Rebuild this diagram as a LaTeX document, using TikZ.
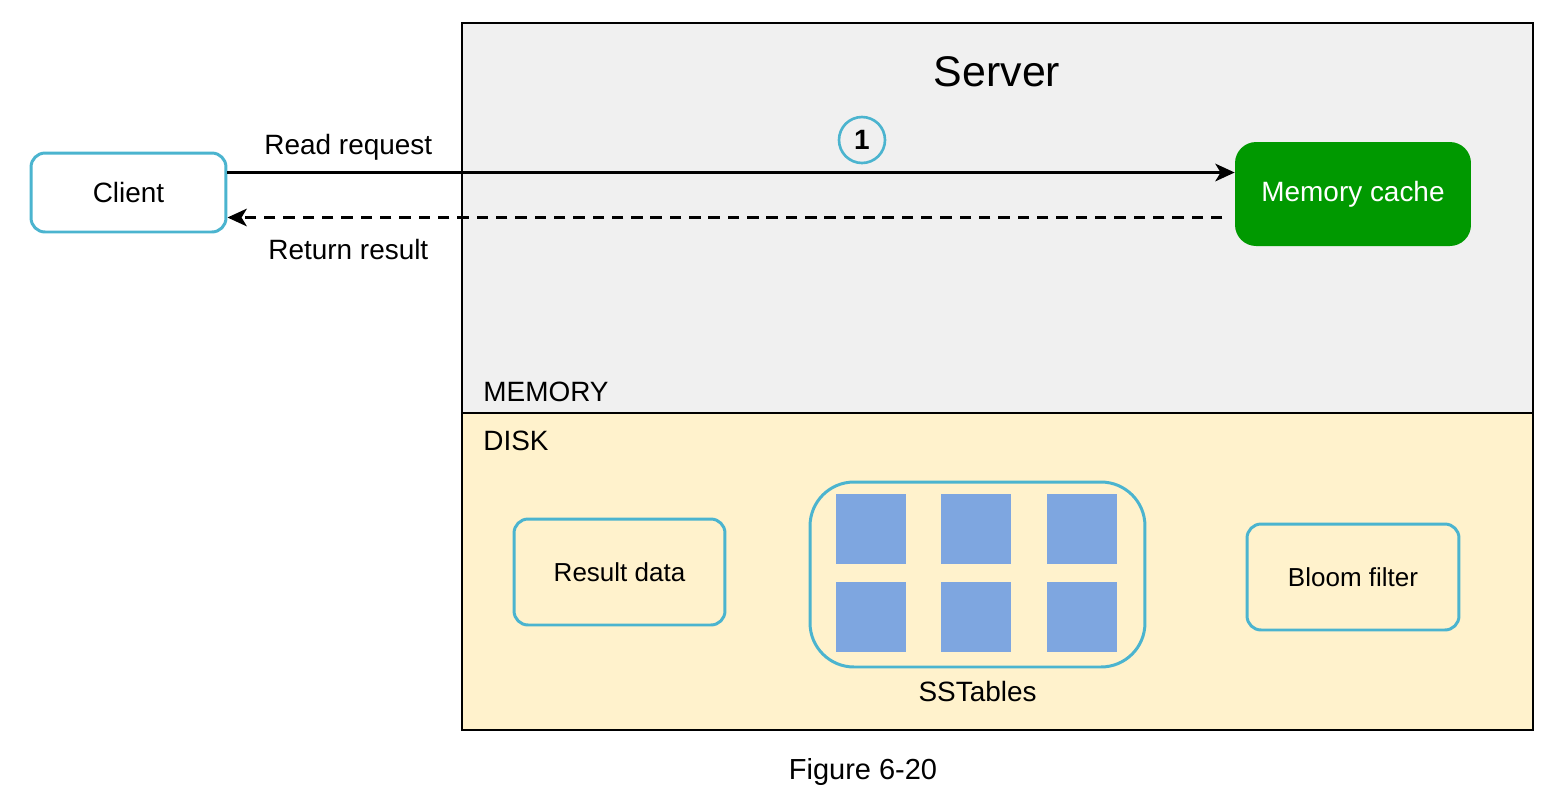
\documentclass[tikz,border=0pt]{standalone}
\usepackage{fontspec}
\setmainfont{Liberation Sans}
\usetikzlibrary{arrows.meta,positioning}
\definecolor{memcolor}{HTML}{F0F0F0}
\definecolor{diskcolor}{HTML}{FFF2CC}
\definecolor{boxcolor}{HTML}{4BB4CF}
\definecolor{cachecolor}{HTML}{009900}
\definecolor{tablecolor}{HTML}{7EA6E0}

\begin{document}
\begin{tikzpicture}[x=0.02cm,y=-0.02cm,
    every node/.style={font=\fontsize{15.9}{19}\selectfont},
    box/.style={draw=boxcolor,line width=1.7pt,rounded corners=8pt,fill=diskcolor,
      minimum width=4.22cm,minimum height=2.12cm},
    small/.style={font=\fontsize{14.8}{18}\selectfont},
    part/.style={draw=black,line width=1.1pt,minimum width=21.42cm,inner sep=0pt},
    table/.style={fill=tablecolor,minimum size=1.4cm,inner sep=0pt},
    arrow/.style={line width=1.6pt,-{Stealth[length=11pt,width=10pt,inset=3pt]}}]
    \useasboundingbox (0,0) rectangle (1556,796);

    % server: memory and disk
    \node (memory) [part,fill=memcolor,minimum height=7.8cm] at (997.5,218) {};
    \node (disk) [part,fill=diskcolor,minimum height=6.34cm] at (997.5,571.5) {};
    \node [font=\fontsize{24.4}{29}\selectfont] at (997,72) {Server};
    \node [anchor=west,inner sep=0pt] at (483,392) {MEMORY};
    \node [anchor=west,inner sep=0pt] at (483,441) {DISK};

    % nodes
    \node (client) [box,fill=white,minimum width=3.9cm,minimum height=1.58cm] at (128.5,192.5) {Client};
    \node (cache) [fill=cachecolor,text=white,rounded corners=12pt,
      minimum width=4.72cm,minimum height=2.08cm] at (1353,194) {Memory cache};
    \node (result) [box,small] at (619.5,572) {Result data};
    \node (bloom) [box,small,minimum width=4.24cm] at (1353,577) {Bloom filter};
    \node (sstables) [box,rounded corners=25pt,minimum width=6.7cm,minimum height=3.7cm] at (977.5,574.5) {};
    \foreach \col/\x in {1/871,2/976,3/1082}
      \foreach \row/\y in {1/529,2/617}
        \node (sst\col\row) [table] at (\x,\y) {};
    \node [below=4pt of sstables] {SSTables};

    % arrows
    \draw [arrow] ([yshift=0.4cm]client.east) -- ([yshift=0.4cm]client.east -| cache.west)
      node [pos=0.12,above=3pt] {Read request};
    \draw [arrow,dash pattern=on 6.5pt off 4.5pt,shorten <=7pt] ([yshift=-0.5cm]client.east -| cache.west) -- ([yshift=-0.5cm]client.east)
      node [pos=0.88,below=8pt] {Return result};
    \node (step1) [circle,draw=boxcolor,line width=1.5pt,minimum size=0.92cm,inner sep=0pt,
      font=\bfseries\fontsize{15.9}{19}\selectfont] at (862,140) {1};

    \node (caption) [font=\fontsize{16.5}{20}\selectfont] at (863,772) {Figure 6-20};
\end{tikzpicture}
\end{document}
